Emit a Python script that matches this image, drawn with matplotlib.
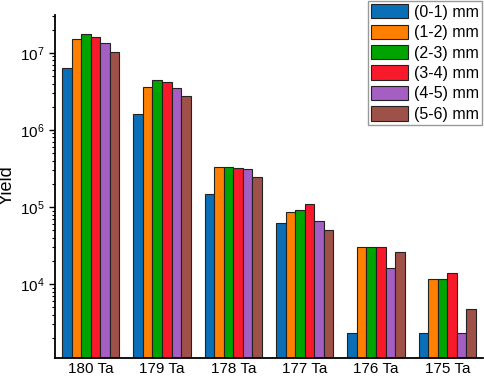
import matplotlib
matplotlib.use("Agg")
import matplotlib.pyplot as plt
import numpy as np

plt.rcParams['font.family'] = ['Liberation Sans', 'DejaVu Sans']
plt.rcParams['mathtext.fontset'] = 'custom'
plt.rcParams['mathtext.rm'] = 'Liberation Sans'
plt.rcParams['mathtext.default'] = 'regular'

categories = ["180 Ta", "179 Ta", "178 Ta", "177 Ta", "176 Ta", "175 Ta"]
series_labels = ["(0-1) mm", "(1-2) mm", "(2-3) mm", "(3-4) mm", "(4-5) mm", "(5-6) mm"]
s01 = [6.4e6, 1.6e6, 1.47e5, 6.2e4, 2.35e3, 2.35e3]
s12 = [1.52e7, 3.66e6, 3.3e5, 8.6e4, 3.0e4, 1.16e4]
s23 = [1.77e7, 4.4e6, 3.3e5, 9.1e4, 3.0e4, 1.16e4]
s34 = [1.6e7, 4.2e6, 3.2e5, 1.1e5, 3.0e4, 1.39e4]
s45 = [1.34e7, 3.47e6, 3.1e5, 6.5e4, 1.63e4, 2.35e3]
s56 = [1.02e7, 2.76e6, 2.43e5, 5.0e4, 2.6e4, 4.7e3]
series = [s01, s12, s23, s34, s45, s56]
colors = ["#0B6FB8", "#FF8000", "#00A400", "#F8192B", "#A55EC1", "#9E5148"]

fig = plt.figure(figsize=(4.84, 3.8), dpi=100)
ax = fig.add_axes([55/484, 22/380, 428/484, 343/380])

x = np.arange(len(categories))
n = len(series)
group_w = 0.8
bw = group_w / n
for i, (vals, c, lab) in enumerate(zip(series, colors, series_labels)):
    ax.bar(x - group_w/2 + bw*(i+0.5), vals, width=bw, color=c, edgecolor='#222222',
           linewidth=0.8, label=lab)

ax.set_yscale('log')
ax.set_ylim(1.1e3, 3.1e7)
ax.set_xlim(-0.5, 5.5)
ax.set_xticks(x)
ax.set_xticklabels(categories, fontsize=11)
ax.tick_params(axis='x', length=0, pad=3)
ax.tick_params(axis='y', which='major', length=4, width=1, labelsize=11, direction='out')
ax.tick_params(axis='y', which='minor', length=2.5, width=0.8, direction='out')
for s in ['top', 'right']:
    ax.spines[s].set_visible(False)
for s in ['left', 'bottom']:
    ax.spines[s].set_linewidth(1.3)
ax.set_ylabel("Yield", fontsize=13)
ax.yaxis.set_label_coords(-0.092, 0.504)

leg = ax.legend(loc='upper right', bbox_to_anchor=(482/484, 379/380),
                bbox_transform=fig.transFigure, fontsize=11.5, frameon=True,
                fancybox=False, edgecolor='#999999', framealpha=1,
                handlelength=2.3, handleheight=1.0, handletextpad=0.35,
                labelspacing=0.3, borderpad=0.2, borderaxespad=0)
leg.get_frame().set_linewidth(1.0)

fig.savefig("out.png", dpi=100)
